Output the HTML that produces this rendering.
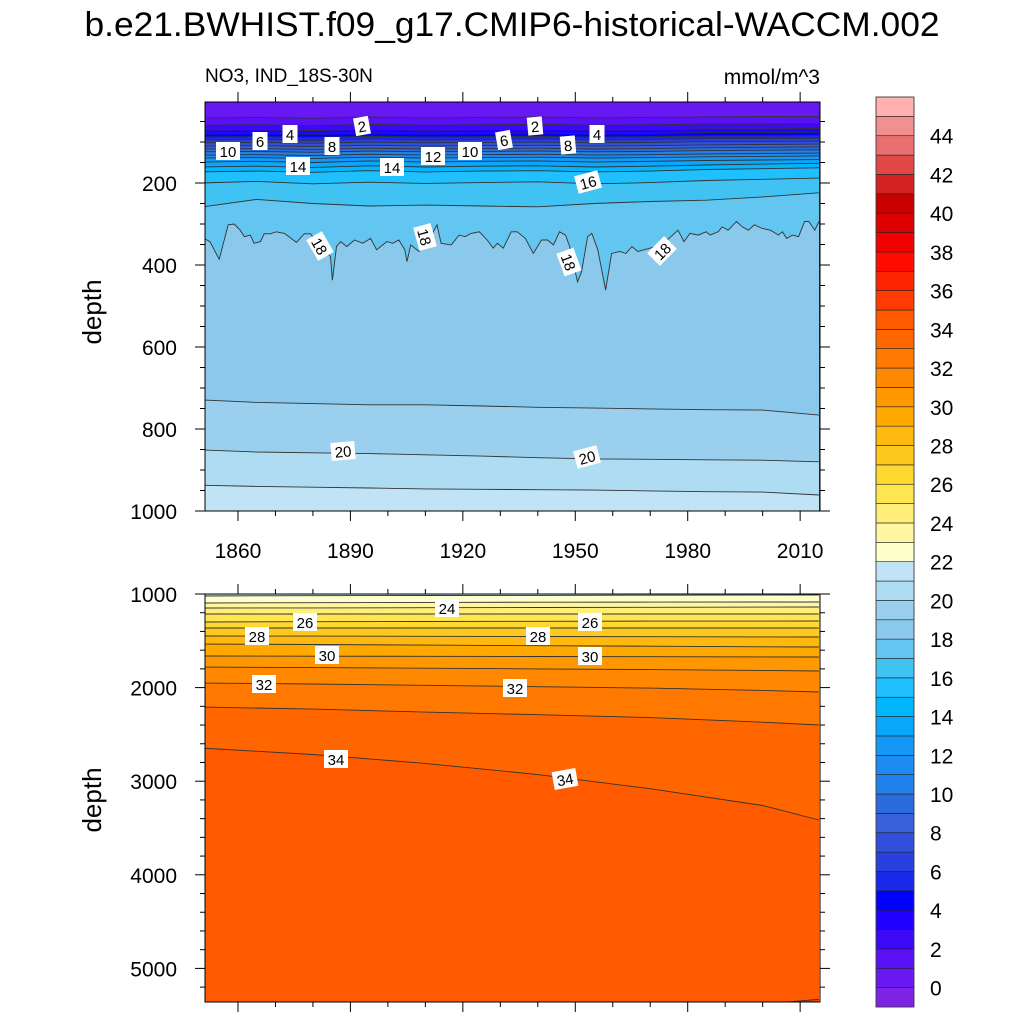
<!DOCTYPE html>
<html><head><meta charset="utf-8"><style>
html,body{margin:0;padding:0;background:#fff}
svg{display:block;font-family:"Liberation Sans",Arial,sans-serif}
</style></head><body>
<svg id="chart" width="1024" height="1024" viewBox="0 0 1024 1024">
<text x="512" y="36" font-size="34" text-anchor="middle" textLength="855" lengthAdjust="spacingAndGlyphs">b.e21.BWHIST.f09_g17.CMIP6-historical-WACCM.002</text>
<text x="205" y="82" font-size="19">NO3, IND_18S-30N</text>
<text x="820" y="84" font-size="21" text-anchor="end">mmol/m^3</text>
<text transform="translate(101,312) rotate(-90)" font-size="26" text-anchor="middle">depth</text>
<text transform="translate(101,800) rotate(-90)" font-size="26" text-anchor="middle">depth</text>
<defs>
<clipPath id="clipTop"><rect x="205" y="102" width="615" height="409"/></clipPath>
<clipPath id="clipBot"><rect x="205" y="594" width="615" height="408"/></clipPath>
</defs>
<g id="top"></g>
<g id="bot"></g>
<g id="cbar"></g>
</svg>
<script>
// ---- data ----
const bandColors = ['#7e22e6','#6818f0','#5a10f5','#3c08f8','#2000ff','#0000ff','#1a28ea','#2840e0','#3050dc','#3860dc','#2a6ce0','#2280ea','#1a8cf2','#1498f8','#0aa6fc','#00b6ff','#20c0ff','#40c2f2','#62c6f0','#8ac8ec','#9ad0ee','#aedcf2','#c0e4f5','#ffffcc','#fff6a0','#ffee78','#ffe650','#ffd830','#ffc81c','#ffb80e','#ffa800','#ff9800','#ff8800','#ff7800','#ff6600','#ff5a00','#ff3c00','#ff2400','#ff0c00','#f00000','#dc0000','#c80000','#d42222','#e04848','#ea7070','#f09090','#ffb0b0'];
const colorbarLabels = [0,2,4,6,8,10,12,14,16,18,20,22,24,26,28,30,32,34,36,38,40,42,44];
const xTickYears = [1860,1890,1920,1950,1980,2010];
const topDepthTicks = [200,400,600,800,1000];
const botDepthTicks = [1000,2000,3000,4000,5000];

const coarseYears = [1850,1865,1880,1895,1910,1925,1940,1955,1970,1985,2000,2015];
const topLevels = [1,2,3,4,5,6,7,8,9,10,11,12,13,14,15,16,17,19,20,21];
const topDepths = [
 [41,40,42,39,41,40,39,41,40,39,38,38],
 [59,58,60,57,59,58,57,59,58,56,56,55],
 [71,70,72,69,71,70,69,71,70,68,68,67],
 [80,79,81,78,80,79,78,80,79,77,77,76],
 [88,87,89,86,88,87,86,88,87,85,85,84],
 [95,94,96,93,95,94,93,95,94,92,92,91],
 [102,101,103,100,102,101,100,102,101,99,99,98],
 [110,109,111,108,110,109,108,110,109,107,106,105],
 [117,116,118,115,117,116,115,117,116,114,113,112],
 [124,123,125,122,124,123,122,124,123,121,120,119],
 [132,131,133,130,132,131,130,132,131,129,128,127],
 [139,138,140,137,139,138,137,139,138,136,135,134],
 [149,147,150,146,149,147,146,149,147,145,144,143],
 [161,159,162,158,161,159,158,161,159,156,154,152],
 [173,171,174,170,173,171,170,173,171,167,165,163],
 [200,196,202,198,201,199,197,202,199,194,191,188],
 [259,240,250,256,254,256,258,250,245,242,234,224],
 [729,735,738,741,741,744,747,749,751,753,754,766],
 [851,856,858,860,863,866,870,873,874,875,876,880],
 [937,940,942,944,946,947,948,949,951,953,954,961]
];
const years18 = [1850,1850.9,1852.5,1855.0,1857.4,1859.0,1860.6,1861.7,1863.3,1864.3,1866.0,1867.0,1868.6,1870.2,1872.4,1875.6,1877.7,1879.4,1881.0,1883.1,1884.7,1885.2,1886.3,1887.4,1889.0,1891.1,1893.3,1895.4,1897.0,1899.7,1901.3,1902.9,1904.5,1905.1,1906.1,1908.3,1911.0,1913.1,1914.2,1916.9,1919.0,1920.6,1922.2,1924.4,1926.5,1928.1,1929.2,1930.8,1932.9,1934.5,1936.7,1938.8,1941.0,1942.6,1944.2,1945.8,1947.4,1948.5,1949.5,1950.6,1951.7,1953.3,1954.4,1956.0,1958.1,1959.7,1961.9,1963.5,1965.1,1966.7,1968.3,1973.1,1977.4,1979.0,1980.6,1982.8,1984.9,1986.0,1988.1,1989.2,1990.8,1993.0,1994.6,1996.2,1997.8,1999.9,2002.1,2004.2,2005.3,2006.4,2008.0,2009.6,2011.2,2012.3,2013.9,2015];
const depth18 = [335,335,343,386,302,300,315,331,327,347,343,324,324,319,323,345,324,324,347,363,380,437,355,343,355,339,347,335,363,343,347,339,363,392,351,367,339,302,347,351,327,331,323,319,339,359,347,359,319,319,335,372,339,339,351,319,327,355,396,441,416,331,323,363,461,372,367,372,355,367,363,351,315,343,323,327,319,327,319,307,315,294,307,315,302,311,315,327,319,335,327,331,294,294,315,294];

const botYears = [1850,1880,1910,1940,1970,2000,2015];
const botLevels = [22,23,24,25,26,27,28,29,30,31,32,33,34];
const botDepths = [
 [1021,1018,1016,1015,1013,1012,1011],
 [1096,1093,1090,1088,1087,1086,1085],
 [1150,1148,1146,1144,1142,1140,1139],
 [1214,1214,1214,1214,1214,1214,1214],
 [1299,1296,1294,1292,1290,1289,1288],
 [1363,1363,1363,1363,1363,1363,1363],
 [1449,1450,1452,1454,1456,1458,1459],
 [1534,1540,1546,1552,1558,1564,1566],
 [1662,1664,1666,1668,1670,1672,1673],
 [1780,1786,1793,1800,1808,1816,1823],
 [1951,1962,1975,1990,2005,2030,2047],
 [2207,2230,2262,2290,2320,2370,2400],
 [2645,2715,2810,2930,3080,3260,3415]
];
const level35Years = [1995,2015];
const level35Depths = [5400,5330];

const topLabels = [['2',362,126,-10],['2',535,126,-5],['4',290,134,0],['4',597,134,0],['6',260,141,0],['6',504,140,-10],['8',332,146,0],['8',568,145,-5],['10',228,151,0],['10',470,151,0],['12',433,156,0],['14',298,166,0],['14',392,167,0],['16',588,182,-15],['18',320,246,60],['18',425,237,75],['18',569,262,70],['18',662,251,-45],['20',343,451,-5],['20',587,457,-15]];
const botLabels = [['24',447,608,0],['26',305,622,0],['26',590,622,0],['28',257,636,0],['28',538,636,0],['30',327,655,0],['30',590,656,0],['32',264,684,0],['32',515,688,0],['34',336,759,0],['34',565,779,-10]];

// ---- scales ----
const NS='http://www.w3.org/2000/svg';
const X0=205,X1=820,YR0=1851.2,YR1=2015.3;
const xs = y => X0 + (y-YR0)/(YR1-YR0)*(X1-X0);
const ysTop = d => 511 - (1000-d)*0.41;
const ysBot = d => 594 + (d-1000)*0.0936;
function mk(tag, attrs, parent){const e=document.createElementNS(NS,tag);for(const k in attrs)e.setAttribute(k,attrs[k]);parent.appendChild(e);return e;}

function drawPanel(g, clipId, ys, bottomY, baseColor, levels, yearsList, depthsList, labels, name){
  const cg = mk('g',{'clip-path':'url(#'+clipId+')'},g);
  const base = mk('rect',{x:X0,y:bottomY-409,width:X1-X0,height:420,fill:baseColor},cg);
  
  
  const lines=[];
  levels.forEach((L,i)=>{
    const yrs=yearsList[i], ds=depthsList[i];
    const pts=yrs.map((yr,j)=>xs(yr).toFixed(1)+','+ys(ds[j]).toFixed(1));
    const fill = mk('polygon',{points:pts.join(' ')+' '+xs(yrs[yrs.length-1]).toFixed(1)+','+(bottomY+20)+' '+xs(yrs[0]).toFixed(1)+','+(bottomY+20),fill:bandColors[L+1]},cg);
    
    
    lines.push(pts.join(' '));
  });
  lines.forEach((p,i)=>{
    const l = mk('polyline',{points:p,fill:'none',stroke:'#333',"stroke-width":0.9},cg);
    
    
  });
  labels.forEach(lb=>{
    const t = mk('g',{transform:'translate('+lb[1]+','+lb[2]+') rotate('+lb[3]+')'},cg);
    
    
    const w = lb[0].length*9+6;
    mk('rect',{x:-w/2,y:-9,width:w,height:18,fill:'#fff'},t);
    mk('text',{x:0,y:6,'font-size':15,'text-anchor':'middle'},t).textContent=lb[0];
  });
}

const tLevels=[], tYears=[], tDepths=[];
topLevels.forEach((L,i)=>{
  if(L===19){tLevels.push(18);tYears.push(years18);tDepths.push(depth18);}
  tLevels.push(L);tYears.push(coarseYears);tDepths.push(topDepths[i]);
});
drawPanel(document.getElementById('top'),'clipTop',ysTop,511,bandColors[1],tLevels,tYears,tDepths,topLabels,'top');
const bL=botLevels.slice(), bY=botLevels.map(()=>botYears), bD=botDepths.slice();
bL.push(35); bY.push(level35Years); bD.push(level35Depths);
drawPanel(document.getElementById('bot'),'clipBot',ysBot,1002,bandColors[22],bL,bY,bD,botLabels,'bottom');

function axes(g, top, bottom, ys, majors, minorStep, minorFrom, minorTo, name, showXLabels){
  const a = mk('g',{},g);
  
  
  mk('rect',{x:X0,y:top,width:X1-X0,height:bottom-top,fill:'none',stroke:'#000','stroke-width':1},a);
  for(let yr=1850; yr<=2015; yr+=10){
    const x=xs(yr); if(x<X0||x>X1) continue;
    const len = xTickYears.includes(yr)?10:5;
    mk('line',{x1:x,x2:x,y1:top,y2:top-len,stroke:'#000'},a);
    mk('line',{x1:x,x2:x,y1:bottom,y2:bottom+len,stroke:'#000'},a);
  }
  if(showXLabels) xTickYears.forEach(yr=>{
    const t=mk('text',{x:xs(yr),y:bottom+47,'font-size':21,'text-anchor':'middle'},a); t.textContent=yr;
    
    
  });
  for(let d=minorFrom; d<=minorTo; d+=minorStep){
    const y=ys(d); if(y<top-0.5||y>bottom+0.5) continue;
    const len = majors.includes(d)?10:5;
    mk('line',{x1:X0,x2:X0-len,y1:y,y2:y,stroke:'#000'},a);
    mk('line',{x1:X1,x2:X1+len,y1:y,y2:y,stroke:'#000'},a);
  }
  majors.forEach(d=>{
    const t=mk('text',{x:X0-28,y:ys(d)+8,'font-size':21,'text-anchor':'end'},a); t.textContent=d;
    
    
  });
}
const svg=document.getElementById('chart');
axes(svg,102,511,ysTop,topDepthTicks,50,0,1000,'top',true);
axes(svg,594,1002,ysBot,botDepthTicks,200,1000,5400,'bottom',false);

const cb=document.getElementById('cbar');
const CB0=97,CB1=1007,bh=(CB1-CB0)/bandColors.length;
bandColors.forEach((c,i)=>{
  const r=mk('rect',{x:876,y:CB1-(i+1)*bh,width:38,height:bh,fill:c,stroke:'#222','stroke-width':0.6},cb);
  
  
});
mk('rect',{x:876,y:CB0,width:38,height:CB1-CB0,fill:'none',stroke:'#444','stroke-width':0.8},cb);
colorbarLabels.forEach(v=>{
  const y=CB1-(v+1)*bh;
  const t=mk('text',{x:930,y:y+8,'font-size':21},cb); t.textContent=v;
  
  
});
</script>
</body></html>
